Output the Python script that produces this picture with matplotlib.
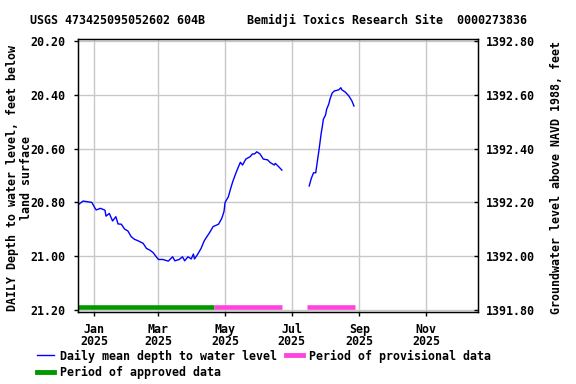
import pandas as pd
import matplotlib

matplotlib.use("Agg")
import matplotlib.pyplot as plt
from matplotlib.lines import Line2D

# daily mean depth, first record period
dates_1 = ["2024-12-17", "2024-12-22", "2024-12-30", "2025-01-02", "2025-01-03",
           "2025-01-07", "2025-01-11", "2025-01-12", "2025-01-15", "2025-01-18",
           "2025-01-21", "2025-01-23", "2025-01-26", "2025-01-29", "2025-02-01",
           "2025-02-04", "2025-02-07", "2025-02-10", "2025-02-15", "2025-02-18",
           "2025-02-21", "2025-02-24", "2025-02-27", "2025-03-01", "2025-03-05",
           "2025-03-10", "2025-03-14", "2025-03-16", "2025-03-20", "2025-03-23",
           "2025-03-25", "2025-03-28", "2025-03-31", "2025-04-02", "2025-04-03",
           "2025-04-06", "2025-04-09", "2025-04-12", "2025-04-17", "2025-04-20",
           "2025-04-25", "2025-04-28", "2025-04-30", "2025-05-01", "2025-05-04",
           "2025-05-06", "2025-05-08", "2025-05-11", "2025-05-13", "2025-05-15",
           "2025-05-17", "2025-05-20", "2025-05-24", "2025-05-26", "2025-05-28",
           "2025-05-30", "2025-06-02", "2025-06-05", "2025-06-09", "2025-06-11",
           "2025-06-15", "2025-06-16", "2025-06-19", "2025-06-22"]
depth_1 = [20.810, 20.795, 20.800, 20.822, 20.828,
           20.822, 20.829, 20.851, 20.841, 20.869,
           20.853, 20.880, 20.881, 20.899, 20.906,
           20.927, 20.937, 20.942, 20.952, 20.971,
           20.977, 20.986, 21.002, 21.012, 21.012,
           21.018, 21.002, 21.017, 21.012, 21.002,
           21.017, 21.002, 21.010, 20.992, 21.010,
           20.992, 20.971, 20.942, 20.911, 20.890,
           20.881, 20.859, 20.834, 20.800, 20.779,
           20.750, 20.723, 20.690, 20.670, 20.651,
           20.661, 20.639, 20.630, 20.620, 20.620,
           20.612, 20.620, 20.639, 20.642, 20.651,
           20.661, 20.655, 20.667, 20.680]

# second record period
dates_2 = ["2025-07-17", "2025-07-19", "2025-07-21", "2025-07-23", "2025-07-24",
           "2025-07-26", "2025-07-27", "2025-07-28", "2025-07-29", "2025-07-30",
           "2025-08-01", "2025-08-02", "2025-08-04", "2025-08-05", "2025-08-07",
           "2025-08-09", "2025-08-13", "2025-08-15", "2025-08-16", "2025-08-19",
           "2025-08-22", "2025-08-25", "2025-08-27"]
depth_2 = [20.739, 20.710, 20.690, 20.690, 20.661,
           20.605, 20.574, 20.543, 20.519, 20.491,
           20.475, 20.454, 20.434, 20.417, 20.394,
           20.386, 20.382, 20.374, 20.382, 20.390,
           20.403, 20.422, 20.442]

approved = [("2024-12-16", "2025-04-21")]
provisional = [("2025-04-21", "2025-06-22"), ("2025-07-15", "2025-08-28")]

month_ticks = ["2025-01-01", "2025-03-01", "2025-05-01", "2025-07-01", "2025-09-01", "2025-11-01"]
month_labels = ["Jan\n2025", "Mar\n2025", "May\n2025", "Jul\n2025", "Sep\n2025", "Nov\n2025"]
depth_ticks = [20.20, 20.40, 20.60, 20.80, 21.00, 21.20]
datum = 1413.00  # land surface elevation, ft NAVD 1988

plt.rcParams['font.family'] = ['DejaVu Sans Mono']
plt.rcParams['font.weight'] = 'bold'
plt.rcParams['font.size'] = 8.4

fig = plt.figure(figsize=(5.76, 3.84), dpi=100)
ax = fig.add_axes([0.1354, 0.1883, 0.6945, 0.7094])

ax.plot(pd.to_datetime(dates_1), depth_1, color='#0000ff', lw=1.0)
ax.plot(pd.to_datetime(dates_2), depth_2, color='#0000ff', lw=1.0)

bar_y = 21.189
for a, b in approved:
    ax.plot(pd.to_datetime([a, b]), [bar_y, bar_y], color='#009900', lw=3.3,
            solid_capstyle='butt')
for a, b in provisional:
    ax.plot(pd.to_datetime([a, b]), [bar_y, bar_y], color='#ff44dd', lw=3.3,
            solid_capstyle='butt')

ax.set_xlim(pd.Timestamp("2024-12-17 08:00"), pd.Timestamp("2025-12-18 14:00"))
ax.set_ylim(21.206, 20.194)
ax.set_xticks(pd.to_datetime(month_ticks))
ax.set_xticklabels(month_labels, linespacing=0.95)
ax.set_yticks(depth_ticks)
ax.set_yticklabels(["%.2f" % v for v in depth_ticks])
ax.grid(True, color='#c8c8c8', lw=1.0)
ax.tick_params(axis='both', direction='out', length=3, width=1, pad=6)
ax.tick_params(axis='x', pad=5)
for s in ax.spines.values():
    s.set_linewidth(1.0)

ax2 = ax.twinx()
ax2.set_ylim(datum - 21.206, datum - 20.194)
ax2.set_yticks([datum - v for v in depth_ticks])
ax2.set_yticklabels(["%.2f" % (datum - v) for v in depth_ticks])
ax2.tick_params(axis='y', direction='in', length=3, width=1, pad=6)

ax.set_title("USGS 473425095052602 604B      Bemidji Toxics Research Site  0000273836",
             fontsize=8.4, fontweight='bold', pad=11)
fig.text(19.5 / 576, 1 - 178 / 384, "DAILY Depth to water level, feet below\nland surface",
         rotation=90, ha='center', va='center', ma='center', linespacing=1.1)
fig.text(557 / 576, 1 - 178 / 384, "Groundwater level above NAVD 1988, feet",
         rotation=90, ha='center', va='center')

handles = [Line2D([], [], color='#0000ff', lw=1),
           Line2D([], [], color='#009900', lw=3.5),
           Line2D([], [], color='#ff44dd', lw=3.5)]
labels = ["Daily mean depth to water level", "Period of approved data",
          "Period of provisional data"]
fig.legend(handles, labels, loc='upper left', bbox_to_anchor=(0.064, 0.090),
           ncol=2, frameon=False, borderpad=0, borderaxespad=0,
           handlelength=1.5, handletextpad=0.45, columnspacing=0.8,
           labelspacing=0.3)

fig.savefig("out.png", dpi=100)
